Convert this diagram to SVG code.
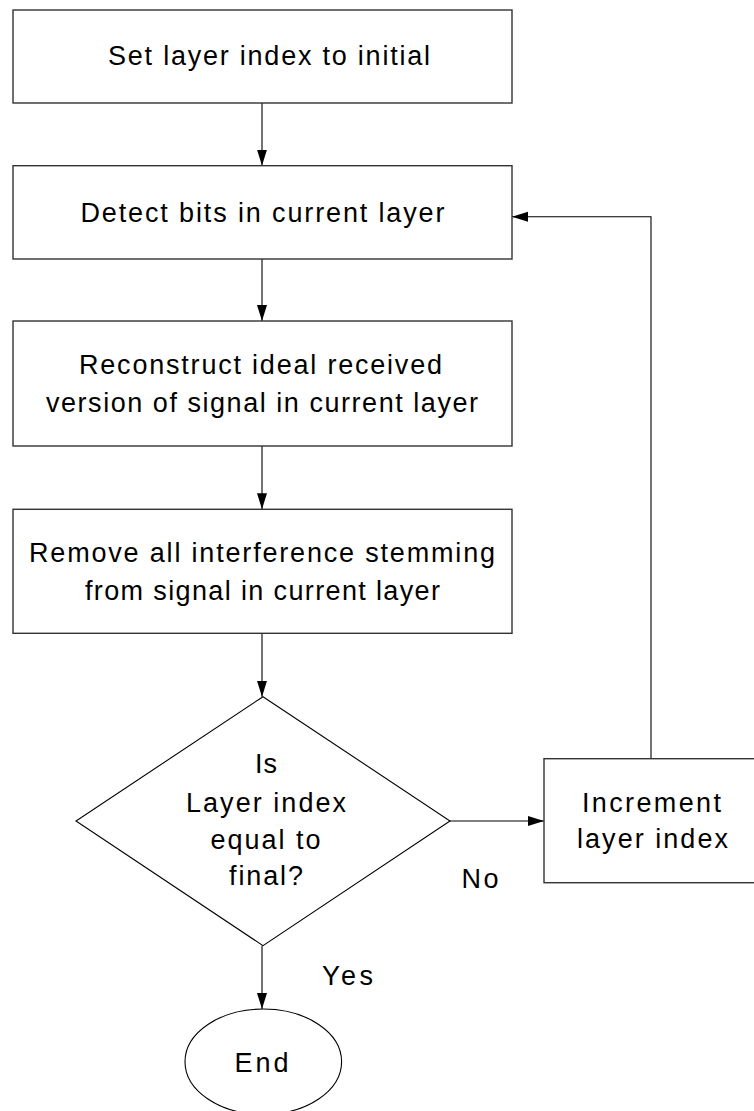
<svg xmlns="http://www.w3.org/2000/svg" width="754" height="1111" viewBox="0 0 754 1111">
<style>
.box{fill:#fff;stroke:#333;stroke-width:1.4}
.shape{fill:#fff;stroke:#000;stroke-width:1.1}
.t{font-family:"Liberation Sans",Arial,sans-serif;font-size:27px;fill:#000}
.c{fill:none;stroke:#000;stroke-width:1.1}
</style>
<defs>
<marker id="ah" markerUnits="userSpaceOnUse" markerWidth="17" markerHeight="11" refX="16" refY="5" orient="auto">
<path d="M0,0 L16,5 L0,10 z" fill="#000"/>
</marker>
</defs>
<rect width="754" height="1111" fill="#fff"/>
<g id="connectors">
<line class="c" x1="262" y1="103" x2="262" y2="165.5" marker-end="url(#ah)"/>
<line class="c" x1="262" y1="259" x2="262" y2="321" marker-end="url(#ah)"/>
<line class="c" x1="262" y1="446" x2="262" y2="509.3" marker-end="url(#ah)"/>
<line class="c" x1="262" y1="633.3" x2="262" y2="696.7" marker-end="url(#ah)"/>
<line class="c" x1="262" y1="945.7" x2="262" y2="1009" marker-end="url(#ah)"/>
<line class="c" x1="450" y1="821" x2="544" y2="821" marker-end="url(#ah)"/>
<polyline class="c" points="651,758.7 651,216.7 512,216.7" marker-end="url(#ah)"/>
</g>
<g id="n1">
<rect class="box" x="13" y="10" width="499" height="93"/>
<text class="t" x="108" y="65" textLength="322" lengthAdjust="spacing">Set layer index to initial</text>
</g>
<g id="n2">
<rect class="box" x="13" y="165.7" width="499" height="93.3"/>
<text class="t" x="80.5" y="222" textLength="364" lengthAdjust="spacing">Detect bits in current layer</text>
</g>
<g id="n3">
<rect class="box" x="13" y="321" width="499" height="125"/>
<text class="t" x="79" y="374" textLength="363" lengthAdjust="spacing">Reconstruct ideal received</text>
<text class="t" x="46" y="412" textLength="432" lengthAdjust="spacing">version of signal in current layer</text>
</g>
<g id="n4">
<rect class="box" x="13" y="509.3" width="499" height="124"/>
<text class="t" x="29" y="561.6" textLength="466" lengthAdjust="spacing">Remove all interference stemming</text>
<text class="t" x="85" y="599.6" textLength="355" lengthAdjust="spacing">from signal in current layer</text>
</g>
<g id="n5">
<polygon class="shape" points="263,696.7 450,821 263,945.7 76,821"/>
<text class="t" x="255" y="773" textLength="22" lengthAdjust="spacing">Is</text>
<text class="t" x="186" y="811.5" textLength="160" lengthAdjust="spacing">Layer index</text>
<text class="t" x="210.5" y="848.5" textLength="110" lengthAdjust="spacing">equal to</text>
<text class="t" x="229" y="885" textLength="74" lengthAdjust="spacing">final?</text>
</g>
<g id="n6">
<rect class="box" x="544" y="758.7" width="214" height="124"/>
<text class="t" x="582" y="811.7" textLength="139" lengthAdjust="spacing">Increment</text>
<text class="t" x="577" y="848.3" textLength="151" lengthAdjust="spacing">layer index</text>
</g>
<g id="n7">
<ellipse class="shape" cx="263.3" cy="1061.7" rx="78.3" ry="52.7"/>
<text class="t" x="234.5" y="1071.7" textLength="54" lengthAdjust="spacing">End</text>
</g>
<g id="labels">
<text class="t" x="461.5" y="888" textLength="37" lengthAdjust="spacing">No</text>
<text class="t" x="322" y="985" textLength="51" lengthAdjust="spacing">Yes</text>
</g>
</svg>
